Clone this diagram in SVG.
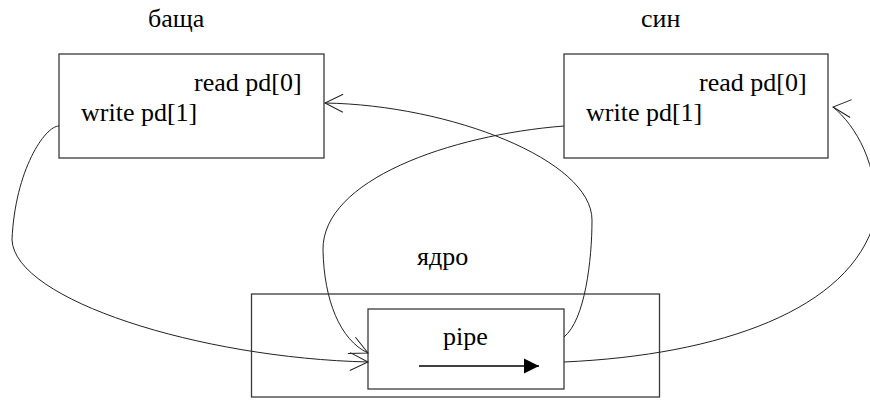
<svg xmlns="http://www.w3.org/2000/svg" width="870" height="403" viewBox="0 0 870 403">
<style>
text{font-family:"Liberation Serif","Times New Roman",serif;font-size:26px;fill:#000}
.box{fill:#fff;stroke:#3a3a3a;stroke-width:1.3}
.con{fill:none;stroke:#222;stroke-width:1}
</style>
<defs>
<marker id="open" markerUnits="userSpaceOnUse" markerWidth="30" markerHeight="30" refX="0" refY="0" orient="auto" overflow="visible">
<path d="M-18,-9 L0,0 L-18,9" fill="none" stroke="#222" stroke-width="1"/>
</marker>
<marker id="openFixed" markerUnits="userSpaceOnUse" markerWidth="30" markerHeight="30" refX="0" refY="0" orient="185" overflow="visible">
<path d="M-18,-9 L0,0 L-18,9" fill="none" stroke="#222" stroke-width="1"/>
</marker>
<marker id="solid" markerUnits="userSpaceOnUse" markerWidth="20" markerHeight="20" refX="0" refY="0" orient="auto" overflow="visible">
<path d="M-15,-7.5 L0,0 L-15,7.5 Z" fill="#000"/>
</marker>
</defs>
<g id="parent">
<text x="148" y="27">баща</text>
<rect class="box" x="59" y="54" width="265" height="104"/>
<text x="194" y="91">read pd[0]</text>
<text x="81" y="121">write pd[1]</text>
</g>
<g id="child">
<text x="641" y="27">син</text>
<rect class="box" x="564" y="54" width="264" height="104"/>
<text x="699" y="91">read pd[0]</text>
<text x="586" y="121">write pd[1]</text>
</g>
<g id="kernel">
<text x="417" y="265">ядро</text>
<rect class="box" x="251.5" y="294" width="408" height="103"/>
</g>
<g id="pipe">
<rect class="box" x="368" y="309" width="196" height="80"/>
<text x="443" y="345">pipe</text>
<line x1="419" y1="366" x2="539" y2="366" stroke="#000" stroke-width="1.5" marker-end="url(#solid)"/>
</g>
<g id="connectors">
<path class="con" d="M59,126 C45,126 15,170 12,240 C15,300 200,358 368,362" marker-end="url(#open)"/>
<path class="con" d="M564,126 C450,135 322,180 323,250 C324,300 340,340 368,353" marker-end="url(#open)"/>
<path class="con" d="M564,337 C585,320 592,260 592,220 C592,160 450,105 325,103" marker-end="url(#open)"/>
<path class="con" d="M564,362 C720,355 850,310 875,220 C880,165 855,125 833,107" marker-end="url(#openFixed)"/>
</g>
</svg>
